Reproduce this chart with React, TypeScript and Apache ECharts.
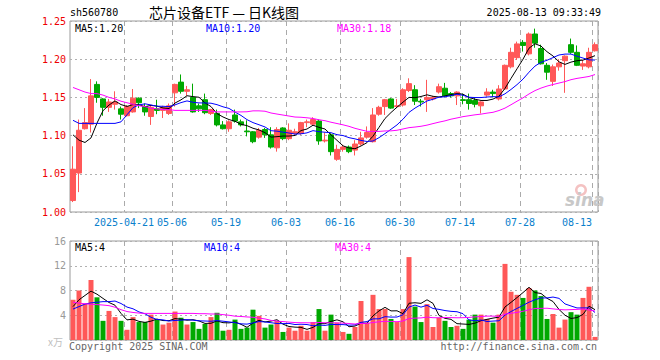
import React, { useEffect, useRef } from "react";
import * as echarts from "echarts";

const dates = [
  "2025-04-08","2025-04-09","2025-04-10","2025-04-11","2025-04-14","2025-04-15","2025-04-16","2025-04-17","2025-04-18","2025-04-21",
  "2025-04-22","2025-04-23","2025-04-24","2025-04-25","2025-04-28","2025-04-29","2025-04-30","2025-05-06","2025-05-07","2025-05-08",
  "2025-05-09","2025-05-12","2025-05-13","2025-05-14","2025-05-15","2025-05-16","2025-05-19","2025-05-20","2025-05-21","2025-05-22",
  "2025-05-23","2025-05-26","2025-05-27","2025-05-28","2025-05-29","2025-05-30","2025-06-03","2025-06-04","2025-06-05","2025-06-06",
  "2025-06-09","2025-06-10","2025-06-11","2025-06-12","2025-06-13","2025-06-16","2025-06-17","2025-06-18","2025-06-19","2025-06-20",
  "2025-06-23","2025-06-24","2025-06-25","2025-06-26","2025-06-27","2025-06-30","2025-07-01","2025-07-02","2025-07-03","2025-07-04",
  "2025-07-07","2025-07-08","2025-07-09","2025-07-10","2025-07-11","2025-07-14","2025-07-15","2025-07-16","2025-07-17","2025-07-18",
  "2025-07-21","2025-07-22","2025-07-23","2025-07-24","2025-07-25","2025-07-28","2025-07-29","2025-07-30","2025-07-31","2025-08-01",
  "2025-08-04","2025-08-05","2025-08-06","2025-08-07","2025-08-08","2025-08-11","2025-08-12","2025-08-13",
];

const opens = [
  1.015,1.051,1.109,1.115,1.167,1.148,1.137,1.141,1.135,1.126,
  1.131,1.149,1.138,1.125,1.135,1.133,1.129,1.156,1.170,1.158,
  1.150,1.139,1.147,1.129,1.129,1.114,1.109,1.127,1.118,1.106,
  1.105,1.098,1.108,1.101,1.084,1.110,1.096,1.103,1.103,1.117,
  1.115,1.119,1.093,1.101,1.069,1.082,1.085,1.081,1.089,1.098,
  1.092,1.128,1.138,1.148,1.138,1.140,1.159,1.160,1.145,1.147,
  1.148,1.157,1.162,1.155,1.152,1.147,1.147,1.146,1.139,1.153,
  1.157,1.148,1.161,1.190,1.202,1.222,1.207,1.233,1.214,1.192,
  1.171,1.190,1.198,1.219,1.209,1.191,1.190,1.211,
];
const closes = [
  1.056,1.107,1.117,1.152,1.150,1.137,1.144,1.144,1.128,1.138,
  1.149,1.143,1.131,1.137,1.133,1.137,1.139,1.167,1.158,1.160,
  1.131,1.135,1.130,1.134,1.114,1.109,1.118,1.119,1.114,1.105,
  1.092,1.107,1.101,1.085,1.108,1.096,1.107,1.105,1.117,1.118,
  1.121,1.093,1.094,1.079,1.082,1.085,1.079,1.089,1.097,1.104,
  1.127,1.137,1.147,1.136,1.139,1.160,1.168,1.145,1.144,1.150,
  1.150,1.164,1.152,1.152,1.157,1.146,1.142,1.141,1.144,1.157,
  1.155,1.161,1.192,1.209,1.220,1.218,1.233,1.221,1.194,1.183,
  1.190,1.195,1.204,1.209,1.192,1.194,1.209,1.219,
];
const highs = [
  1.086,1.121,1.136,1.174,1.171,1.149,1.148,1.158,1.138,1.140,
  1.161,1.150,1.142,1.139,1.147,1.139,1.142,1.168,1.180,1.165,
  1.168,1.142,1.155,1.135,1.134,1.119,1.120,1.134,1.121,1.120,
  1.106,1.110,1.110,1.111,1.111,1.111,1.116,1.109,1.118,1.121,
  1.124,1.121,1.104,1.103,1.088,1.088,1.087,1.094,1.105,1.112,
  1.136,1.139,1.148,1.149,1.148,1.162,1.175,1.166,1.148,1.173,
  1.152,1.168,1.169,1.157,1.158,1.155,1.155,1.149,1.145,1.162,
  1.160,1.166,1.193,1.215,1.223,1.225,1.235,1.240,1.219,1.195,
  1.193,1.200,1.205,1.227,1.218,1.199,1.215,1.222,
];
const lows = [
  1.013,1.026,1.108,1.104,1.143,1.126,1.131,1.134,1.121,1.125,
  1.130,1.136,1.126,1.114,1.128,1.123,1.127,1.138,1.155,1.152,
  1.130,1.131,1.128,1.127,1.112,1.108,1.105,1.117,1.112,1.099,
  1.090,1.096,1.097,1.083,1.079,1.094,1.094,1.101,1.101,1.111,
  1.113,1.088,1.091,1.074,1.067,1.079,1.077,1.074,1.087,1.096,
  1.091,1.126,1.127,1.135,1.136,1.138,1.157,1.140,1.138,1.131,
  1.146,1.155,1.150,1.150,1.140,1.141,1.134,1.137,1.129,1.151,
  1.150,1.146,1.160,1.188,1.199,1.210,1.205,1.215,1.193,1.173,
  1.165,1.185,1.156,1.207,1.191,1.186,1.188,1.210,
];
// volume, in units of 万
const volumes = [
  6.5,8.0,5.9,9.7,6.9,3.1,4.7,3.7,3.1,1.65,
  3.7,2.9,2.9,4.1,3.3,2.5,2.8,4.6,3.6,2.5,
  2.9,1.8,2.6,3.7,4.4,1.5,1.65,3.3,1.8,2.0,
  4.9,3.9,2.0,2.5,3.1,1.3,2.0,1.5,2.3,1.5,
  2.9,5.0,1.5,4.1,2.8,1.3,1.0,2.1,6.3,2.8,
  7.3,5.0,5.0,3.4,2.9,5.0,13.4,5.4,2.9,5.8,
  2.1,3.6,3.1,2.1,2.3,1.8,3.3,4.1,4.1,3.4,
  2.8,4.1,12.3,7.8,7.3,6.8,8.4,8.0,7.1,3.4,
  4.2,2.0,3.3,4.5,4.1,6.8,8.6,0.5,
];

// moving-average values at the left edge (window starts before the first bar)
const ma5Head = [1.101, 1.094, 1.091, 1.097];
const ma10Head = [1.120, 1.116, 1.116, 1.116, 1.116, 1.116, 1.116, 1.116, 1.118];
const ma30Head = [
  1.163,1.160,1.157,1.155,1.155,1.153,1.150,1.148,1.145,1.143,
  1.141,1.139,1.138,1.136,1.135,1.134,1.134,1.133,1.133,1.133,
  1.133,1.133,1.133,1.132,1.131,1.131,1.131,1.131,1.131,
];
const volMa5Head = [5.4, 6.5, 7.2, 7.9];
const volMa10Head = [5.0, 5.4, 5.8, 6.0, 6.1, 6.2, 6.2, 6.3, 5.9];
const volMa30Head = [
  6.1,5.95,5.85,5.78,5.72,5.65,5.55,5.3,4.9,4.6,
  4.45,4.35,4.3,4.3,4.3,4.3,4.3,4.3,4.3,4.3,
  4.3,4.25,4.25,4.2,4.2,4.1,4.0,3.85,3.8,
];

const tickDates = [
  "2025-04-21","2025-05-06","2025-05-19","2025-06-03","2025-06-16",
  "2025-06-30","2025-07-14","2025-07-28","2025-08-13",
];

const RED = "#ff5858";
const GREEN = "#00a800";
const MONO = "'DejaVu Sans Mono', monospace";

function movingAvg(vals: number[], n: number, head: number[]) {
  return vals.map((_, i) => {
    if (i < n - 1) return head[i];
    let s = 0;
    for (let k = i - n + 1; k <= i; k++) s += vals[k];
    return +(s / n).toFixed(4);
  });
}

export default function App() {
  const ref = useRef<HTMLDivElement>(null);

  useEffect(() => {
    if (!ref.current) return;
    const chart = echarts.init(ref.current, null, { renderer: "svg" });

    const ma5 = movingAvg(closes, 5, ma5Head);
    const ma10 = movingAvg(closes, 10, ma10Head);
    const ma30 = movingAvg(closes, 30, ma30Head);
    const vma5 = movingAvg(volumes, 5, volMa5Head);
    const vma10 = movingAvg(volumes, 10, volMa10Head);
    const vma30 = movingAvg(volumes, 30, volMa30Head);
    const last = dates.length - 1;

    const tickIdx = new Set(tickDates.map((d) => dates.indexOf(d)));
    const firstTick = dates.indexOf(tickDates[0]);
    const lastTick = dates.indexOf(tickDates[tickDates.length - 1]);
    const tickFn = (i: number) => tickIdx.has(i);

    const splitV = {
      show: true,
      interval: tickFn,
      lineStyle: { color: "#aaaaaa", type: [5, 4], width: 1 },
    };
    const splitH = { show: true, lineStyle: { color: "#b0b0b0", type: [2, 3], width: 1 } };

    const lineS = (name: string, data: number[], color: string, xi: number) => ({
      name,
      type: "line",
      xAxisIndex: xi,
      yAxisIndex: xi,
      data,
      showSymbol: false,
      symbol: "none",
      lineStyle: { color, width: 1 },
      z: 5,
    });

    const txt = (
      text: string,
      x: number,
      y: number,
      fill: string,
      fontSize = 10,
      align = "left",
      fontFamily = MONO,
      extra: any = {}
    ) => ({
      type: "text",
      x,
      y,
      silent: true,
      z: 100,
      style: { text, fill, fontSize, fontFamily, align, verticalAlign: "middle", ...extra },
    });

    const lblStyle = { color: "#0a80cc", fontFamily: MONO, fontSize: 10 };

    chart.setOption({
      animation: false,
      backgroundColor: "#ffffff",
      grid: [
        { left: 70, width: 528, top: 21, height: 191, show: true, borderColor: "#9a9a9a", borderWidth: 1 },
        { left: 70, width: 528, top: 241, height: 99, show: true, borderColor: "#9a9a9a", borderWidth: 1 },
      ],
      xAxis: [
        {
          type: "category",
          gridIndex: 0,
          data: dates,
          boundaryGap: true,
          axisLine: { show: false },
          axisTick: { show: false },
          axisLabel: {
            interval: tickFn,
            formatter: (v: string, i: number) =>
              i === firstTick ? v : i === lastTick ? "{e|" + v.slice(5) + "}" : v.slice(5),
            ...lblStyle,
            margin: 5,
            padding: [0, 6, 0, 0],
            rich: { e: { ...lblStyle, padding: [0, 30, 0, 0] } },
          },
          splitLine: splitV,
        },
        {
          type: "category",
          gridIndex: 1,
          data: dates,
          boundaryGap: true,
          axisLine: { show: false },
          axisTick: { show: false },
          axisLabel: { show: false },
          splitLine: splitV,
        },
      ],
      yAxis: [
        {
          type: "value",
          gridIndex: 0,
          min: 1.0,
          max: 1.25,
          interval: 0.05,
          axisLine: { show: false },
          axisTick: { show: false },
          axisLabel: {
            color: "#ee0000",
            fontFamily: MONO,
            fontSize: 10,
            margin: 4,
            formatter: (v: number) => v.toFixed(2),
          },
          splitLine: splitH,
        },
        {
          type: "value",
          gridIndex: 1,
          min: 0,
          max: 16,
          interval: 4,
          axisLine: { show: false },
          axisTick: { show: false },
          axisLabel: {
            color: "#999999",
            fontFamily: MONO,
            fontSize: 10,
            margin: 4,
            formatter: (v: number) => (v === 0 ? "" : String(v)),
          },
          splitLine: splitH,
        },
      ],
      series: [
        {
          name: "K",
          type: "candlestick",
          xAxisIndex: 0,
          yAxisIndex: 0,
          barWidth: 5,
          data: dates.map((_, i) => [opens[i], closes[i], lows[i], highs[i]]),
          itemStyle: {
            color: RED,
            color0: GREEN,
            borderColor: RED,
            borderColor0: GREEN,
            borderWidth: 1,
          },
          z: 3,
        },
        lineS("MA5", ma5, "#000000", 0),
        lineS("MA10", ma10, "#0000ff", 0),
        lineS("MA30", ma30, "#ff00ff", 0),
        {
          name: "VOL",
          type: "bar",
          xAxisIndex: 1,
          yAxisIndex: 1,
          barWidth: 5,
          data: volumes.map((v, i) => ({
            value: v,
            itemStyle: { color: closes[i] >= opens[i] ? RED : GREEN },
          })),
          z: 3,
        },
        lineS("VMA5", vma5, "#000000", 1),
        lineS("VMA10", vma10, "#0000ff", 1),
        lineS("VMA30", vma30, "#ff00ff", 1),
      ],
      graphic: [
        txt("sh560780", 70, 12, "#000000", 10),
        txt("芯片设备ETF — 日K线图", 224, 12, "#000000", 14, "center", "'Noto Sans CJK SC', sans-serif"),
        txt("2025-08-13 09:33:49", 601, 12, "#000000", 10, "right"),
        txt("MA5:" + ma5[last].toFixed(2), 75, 28, "#000000"),
        txt("MA10:" + ma10[last].toFixed(2), 206, 28, "#0000ff"),
        txt("MA30:" + ma30[last].toFixed(2), 337, 28, "#ff00ff"),
        txt("MA5:" + Math.floor(vma5[last]), 75, 247, "#000000"),
        txt("MA10:" + Math.floor(vma10[last]), 204, 247, "#0000ff"),
        txt("MA30:" + Math.floor(vma30[last]), 335, 247, "#ff00ff"),
        txt("x万", 63, 341, "#c0c0c0", 10, "right", "'Noto Sans CJK SC', sans-serif"),
        txt("Copyright 2025 SINA.COM", 69, 346, "#666666"),
        txt("http://finance.sina.com.cn", 597, 346, "#666666", 10, "right"),
        {
          type: "ring",
          silent: true,
          z: 1,
          shape: { cx: 581, cy: 190, r: 6, r0: 3.5 },
          style: { fill: "#f4c2c2" },
        },
        txt("sina", 565, 200, "#c8c8c8", 17, "left", "'DejaVu Sans', sans-serif", {
          fontStyle: "italic",
          fontWeight: "bold",
        }),
      ],
    });

    return () => chart.dispose();
  }, []);

  return (
    <div
      ref={ref}
      style={{ position: "absolute", left: 0, top: 0, width: 660, height: 360, background: "#fff" }}
    />
  );
}
